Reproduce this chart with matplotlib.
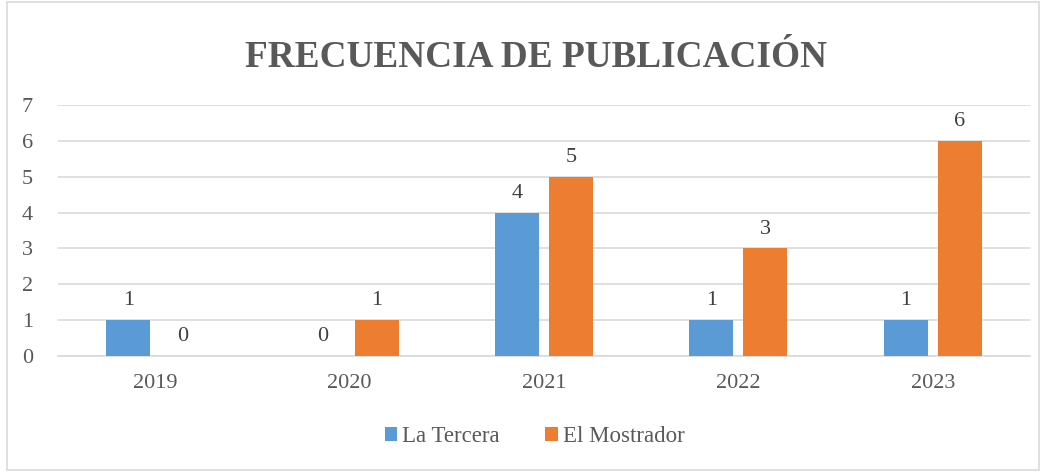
import matplotlib.pyplot as plt
import numpy as np
from matplotlib.patches import Rectangle

# Datos
anios = ["2019", "2020", "2021", "2022", "2023"]
la_tercera = [1, 0, 4, 1, 1]
el_mostrador = [0, 1, 5, 3, 6]

plt.rcParams["font.family"] = ["Liberation Serif", "DejaVu Serif"]
gris = "#595959"

fig = plt.figure(figsize=(10.44, 4.72), dpi=100)
ax = fig.add_axes([0.0556, 0.2458, 0.931, 0.5317])

x = np.arange(len(anios))
ancho = 0.226
b1 = ax.bar(x - 0.139, la_tercera, ancho, color="#5B9BD5", label="La Tercera", zorder=3)
b2 = ax.bar(x + 0.139, el_mostrador, ancho, color="#ED7D31", label="El Mostrador", zorder=3)
ax.bar_label(b1, padding=7, fontsize=16, color="#404040")
ax.bar_label(b2, padding=7, fontsize=16, color="#404040")

ax.set_xlim(-0.5, len(anios) - 0.5)
ax.set_ylim(0, 7)
ax.set_yticks(range(0, 8))
ax.set_xticks(x)
ax.set_xticklabels(anios)
ax.tick_params(axis="both", length=0, labelsize=16, labelcolor=gris)
ax.tick_params(axis="y", pad=18)
ax.tick_params(axis="x", pad=13)
ax.grid(axis="y", color="#D9D9D9", linewidth=1.2, zorder=0)
for s in ["top", "right", "left"]:
    ax.spines[s].set_visible(False)
ax.spines["bottom"].set_color("#D9D9D9")
ax.spines["bottom"].set_linewidth(1.2)

fig.text(0.513, 0.878, "FRECUENCIA DE PUBLICACIÓN", ha="center", va="center",
         fontsize=26.8, fontweight="bold", color=gris)

fig.legend(loc="center", bbox_to_anchor=(0.512, 0.075), ncol=2, frameon=False,
           fontsize=16.5, labelcolor=gris, handlelength=0.55, handleheight=0.55,
           handletextpad=0.2, columnspacing=2.0)

fig.patches.append(Rectangle((0.007, 0.004), 0.988, 0.992, transform=fig.transFigure,
                             fill=False, edgecolor="#D9D9D9", linewidth=1.2))

fig.savefig("out.png", dpi=100)
